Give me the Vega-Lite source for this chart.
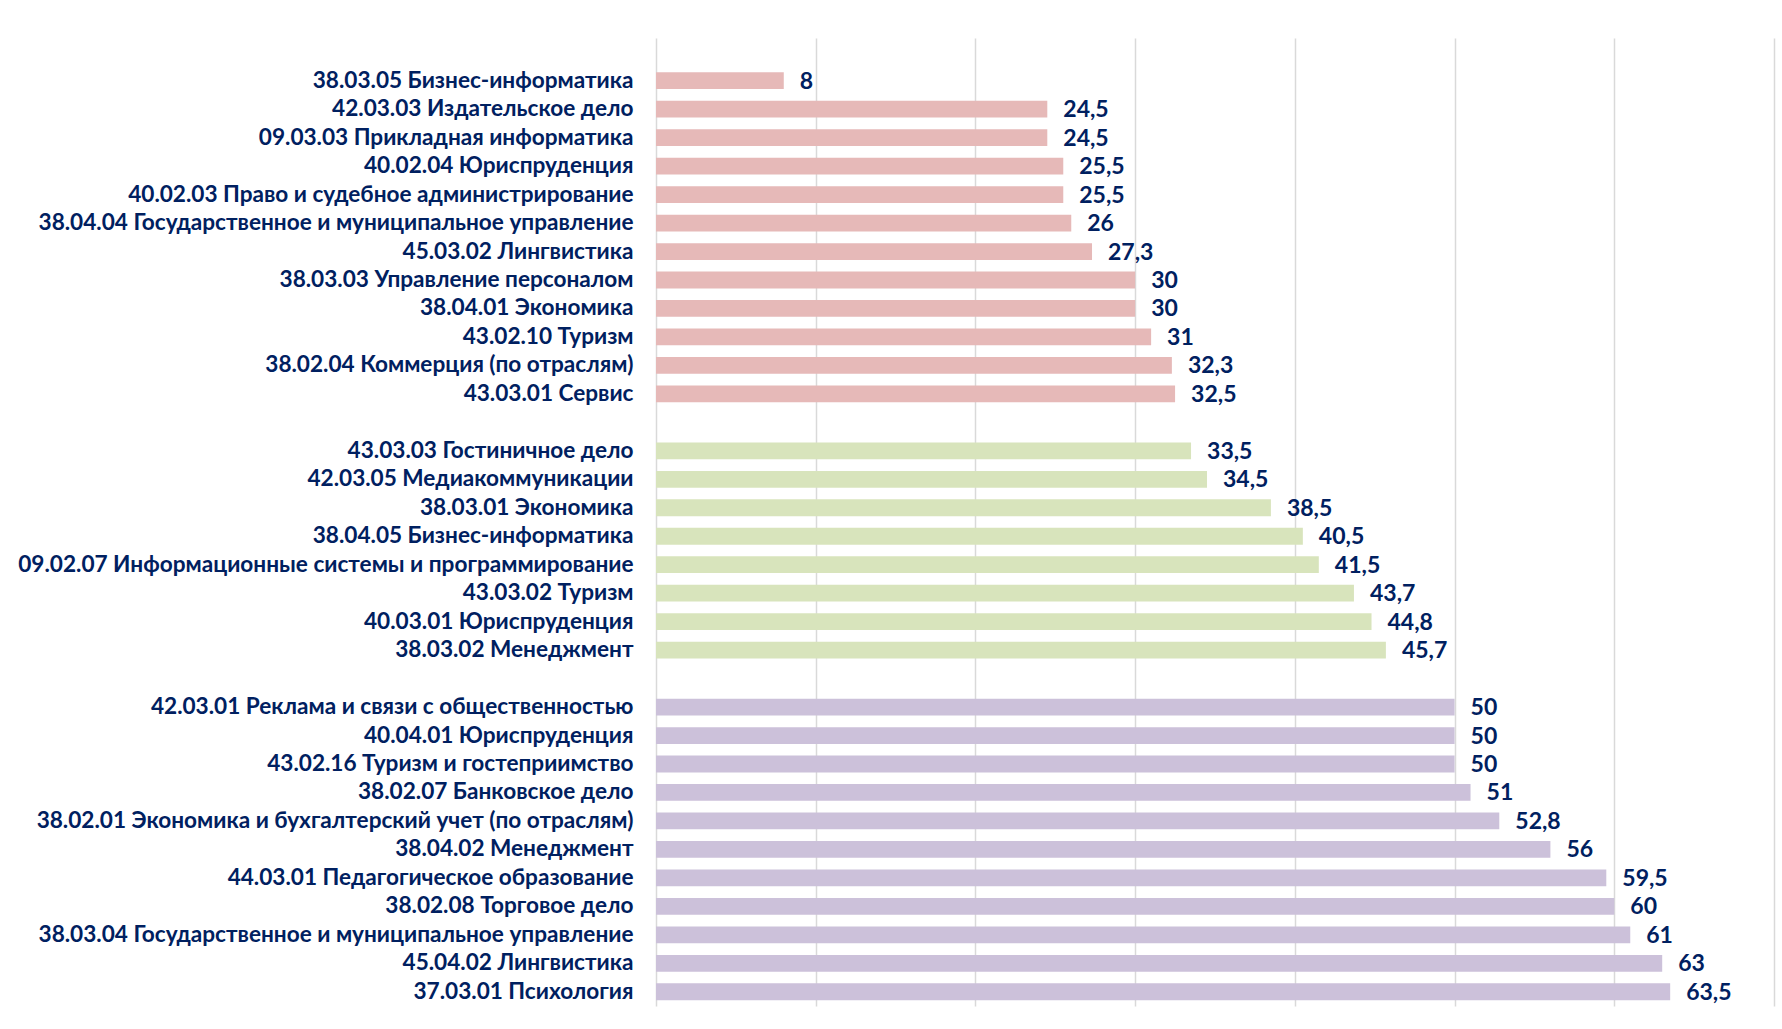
{
  "$schema": "https://vega.github.io/schema/vega-lite/v6.json",
  "autosize": {"type": "none"},
  "padding": {"left": 656, "top": 38, "right": 8, "bottom": 23},
  "width": 1118,
  "height": 968,
  "background": "white",
  "config": {
    "view": {"stroke": null},
    "locale": {"number": {"decimal": ",", "thousands": " ", "grouping": [3], "currency": ["", ""]}}
  },
  "data": {
    "values": [
      {"name": "38.03.05 Бизнес-информатика", "value": 8, "group": "a"},
      {"name": "42.03.03 Издательское дело", "value": 24.5, "group": "a"},
      {"name": "09.03.03 Прикладная информатика", "value": 24.5, "group": "a"},
      {"name": "40.02.04 Юриспруденция", "value": 25.5, "group": "a"},
      {"name": "40.02.03 Право и судебное администрирование", "value": 25.5, "group": "a"},
      {"name": "38.04.04 Государственное и муниципальное управление", "value": 26, "group": "a"},
      {"name": "45.03.02 Лингвистика", "value": 27.3, "group": "a"},
      {"name": "38.03.03 Управление персоналом", "value": 30, "group": "a"},
      {"name": "38.04.01 Экономика", "value": 30, "group": "a"},
      {"name": "43.02.10 Туризм", "value": 31, "group": "a"},
      {"name": "38.02.04 Коммерция (по отраслям)", "value": 32.3, "group": "a"},
      {"name": "43.03.01 Сервис", "value": 32.5, "group": "a"},
      {"name": "43.03.03 Гостиничное дело", "value": 33.5, "group": "b"},
      {"name": "42.03.05 Медиакоммуникации", "value": 34.5, "group": "b"},
      {"name": "38.03.01 Экономика", "value": 38.5, "group": "b"},
      {"name": "38.04.05 Бизнес-информатика", "value": 40.5, "group": "b"},
      {"name": "09.02.07 Информационные системы и программирование", "value": 41.5, "group": "b"},
      {"name": "43.03.02 Туризм", "value": 43.7, "group": "b"},
      {"name": "40.03.01 Юриспруденция", "value": 44.8, "group": "b"},
      {"name": "38.03.02 Менеджмент", "value": 45.7, "group": "b"},
      {"name": "42.03.01 Реклама и связи с общественностью", "value": 50, "group": "c"},
      {"name": "40.04.01 Юриспруденция", "value": 50, "group": "c"},
      {"name": "43.02.16 Туризм и гостеприимство", "value": 50, "group": "c"},
      {"name": "38.02.07 Банковское дело", "value": 51, "group": "c"},
      {"name": "38.02.01 Экономика и бухгалтерский учет (по отраслям)", "value": 52.8, "group": "c"},
      {"name": "38.04.02 Менеджмент", "value": 56, "group": "c"},
      {"name": "44.03.01 Педагогическое образование", "value": 59.5, "group": "c"},
      {"name": "38.02.08 Торговое дело", "value": 60, "group": "c"},
      {"name": "38.03.04 Государственное и муниципальное управление", "value": 61, "group": "c"},
      {"name": "45.04.02 Лингвистика", "value": 63, "group": "c"},
      {"name": "37.03.01 Психология", "value": 63.5, "group": "c"}
    ]
  },
  "encoding": {
    "y": {
      "field": "name",
      "type": "nominal",
      "title": null,
      "scale": {
        "domain": [" ",
          "38.03.05 Бизнес-информатика", "42.03.03 Издательское дело", "09.03.03 Прикладная информатика", "40.02.04 Юриспруденция", "40.02.03 Право и судебное администрирование", "38.04.04 Государственное и муниципальное управление", "45.03.02 Лингвистика", "38.03.03 Управление персоналом", "38.04.01 Экономика", "43.02.10 Туризм", "38.02.04 Коммерция (по отраслям)", "43.03.01 Сервис",
          "  ",
          "43.03.03 Гостиничное дело", "42.03.05 Медиакоммуникации", "38.03.01 Экономика", "38.04.05 Бизнес-информатика", "09.02.07 Информационные системы и программирование", "43.03.02 Туризм", "40.03.01 Юриспруденция", "38.03.02 Менеджмент",
          "   ",
          "42.03.01 Реклама и связи с общественностью", "40.04.01 Юриспруденция", "43.02.16 Туризм и гостеприимство", "38.02.07 Банковское дело", "38.02.01 Экономика и бухгалтерский учет (по отраслям)", "38.04.02 Менеджмент", "44.03.01 Педагогическое образование", "38.02.08 Торговое дело", "38.03.04 Государственное и муниципальное управление", "45.04.02 Лингвистика", "37.03.01 Психология"
        ],
        "paddingInner": 0.41,
        "paddingOuter": 0.205
      },
      "axis": {
        "domain": false,
        "ticks": false,
        "tickSize": 0,
        "grid": false,
        "labelPadding": 23,
        "labelFont": "Lato",
        "labelFontWeight": "bold",
        "labelFontSize": 22.6,
        "labelColor": "#002060",
        "labelLimit": 800
      }
    },
    "x": {
      "field": "value",
      "type": "quantitative",
      "title": null,
      "scale": {"domain": [0, 70], "nice": false},
      "axis": {
        "values": [0, 10, 20, 30, 40, 50, 60, 70],
        "labels": false,
        "ticks": false,
        "domain": false,
        "grid": true,
        "gridColor": "#d9d9d9",
        "gridWidth": 1.5
      }
    }
  },
  "layer": [
    {
      "mark": {"type": "bar"},
      "encoding": {
        "color": {
          "field": "group",
          "type": "nominal",
          "legend": null,
          "scale": {"domain": ["a", "b", "c"], "range": ["#E6B9B8", "#D8E4BC", "#CCC1DA"]}
        }
      }
    },
    {
      "mark": {"type": "text", "align": "left", "baseline": "middle", "dx": 16, "dy": 1, "font": "Lato", "fontWeight": "bold", "fontSize": 23, "color": "#002060"},
      "encoding": {
        "text": {"field": "value", "type": "quantitative", "format": ".1~f"}
      }
    }
  ]
}
